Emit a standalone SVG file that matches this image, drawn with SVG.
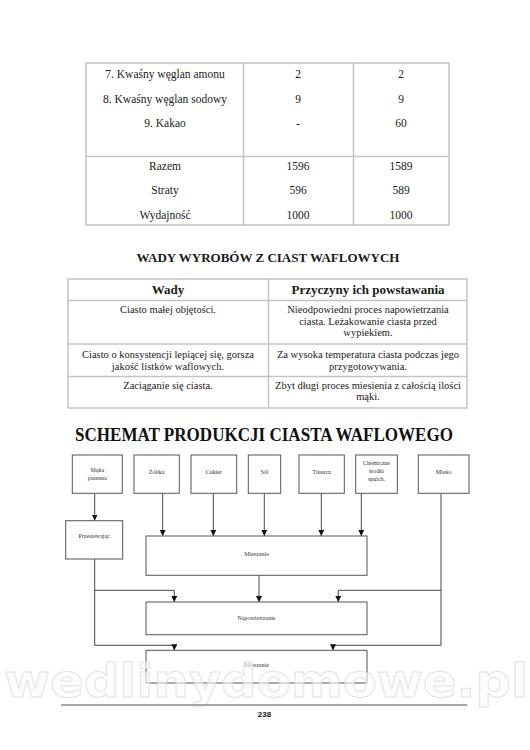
<svg xmlns="http://www.w3.org/2000/svg" width="530" height="750" viewBox="0 0 530 750">
<style>
.bg{fill:#fff}
.tb{fill:none;stroke:#c4c4c4;stroke-width:1.5}
.t{font-family:"Liberation Serif","Times New Roman",serif;fill:#1a1a1a;text-anchor:middle}
.t1{font-size:11.5px}
.t2{font-size:10.5px}
.h{font-weight:bold;font-size:13px}
.big{font-family:"Liberation Serif","Times New Roman",serif;font-weight:bold;font-size:18.5px;fill:#111;text-anchor:middle}
.box{fill:#fff;stroke:#555;stroke-width:1}
.bt{font-family:"Liberation Serif","Times New Roman",serif;font-size:6px;fill:#333;text-anchor:middle}
.ln{fill:none;stroke:#333;stroke-width:0.9}
.wm{font-family:"DejaVu Sans",Verdana,sans-serif;font-weight:bold;font-size:46px;fill:#fbfbfb;fill-opacity:0.6;stroke:#dcdcdc;stroke-opacity:0.8;stroke-width:1}
</style>
<defs>
<marker id="ar" viewBox="0 0 10 10" refX="10" refY="5" markerWidth="6" markerHeight="6" markerUnits="userSpaceOnUse" orient="auto">
<path d="M0,0 L10,5 L0,10 z" fill="#111"/>
</marker>
</defs>
<rect class="bg" x="0" y="0" width="530" height="750"/>

<g id="table1">
<rect class="tb" x="86" y="63" width="363" height="162"/>
<line class="tb" x1="243.5" y1="63" x2="243.5" y2="225"/>
<line class="tb" x1="353.5" y1="63" x2="353.5" y2="225"/>
<line class="tb" x1="86" y1="156.5" x2="449" y2="156.5"/>
<g class="t t1">
<text x="165" y="77.5">7. Kwaśny węglan amonu</text>
<text x="165" y="102.5">8. Kwaśny węglan sodowy</text>
<text x="165" y="127">9. Kakao</text>
<text x="165" y="169.5">Razem</text>
<text x="165" y="194">Straty</text>
<text x="165" y="218.5">Wydajność</text>
<text x="298" y="77.5">2</text>
<text x="298" y="102.5">9</text>
<text x="298" y="127">-</text>
<text x="298" y="169.5">1596</text>
<text x="298" y="194">596</text>
<text x="298" y="218.5">1000</text>
<text x="401" y="77.5">2</text>
<text x="401" y="102.5">9</text>
<text x="401" y="127">60</text>
<text x="401" y="169.5">1589</text>
<text x="401" y="194">589</text>
<text x="401" y="218.5">1000</text>
</g>
</g>

<text class="t h" x="268" y="262">WADY WYROBÓW Z CIAST WAFLOWYCH</text>

<g id="table2">
<rect class="tb" x="68" y="279" width="399" height="129"/>
<line class="tb" x1="268.5" y1="279" x2="268.5" y2="408"/>
<line class="tb" x1="68" y1="300.5" x2="467" y2="300.5"/>
<line class="tb" x1="68" y1="344" x2="467" y2="344"/>
<line class="tb" x1="68" y1="376.5" x2="467" y2="376.5"/>
<text class="t h" x="168" y="293.5">Wady</text>
<text class="t h" x="368" y="293.5">Przyczyny ich powstawania</text>
<g class="t t2">
<text x="168" y="313">Ciasto małej objętości.</text>
<text x="368" y="313">Nieodpowiedni proces napowietrzania</text>
<text x="368" y="324.5">ciasta. Leżakowanie ciasta przed</text>
<text x="368" y="336">wypiekiem.</text>
<text x="168" y="358">Ciasto o konsystencji lepiącej się, gorsza</text>
<text x="168" y="369.5">jakość listków waflowych.</text>
<text x="368" y="358">Za wysoka temperatura ciasta podczas jego</text>
<text x="368" y="369.5">przygotowywania.</text>
<text x="168" y="388.5">Zaciąganie się ciasta.</text>
<text x="368" y="388.5">Zbyt długi proces miesienia z całością ilości</text>
<text x="368" y="400">mąki.</text>
</g>
</g>

<text class="big" x="264" y="441" textLength="378" lengthAdjust="spacingAndGlyphs">SCHEMAT PRODUKCJI CIASTA WAFLOWEGO</text>

<g id="connectors">
<line class="ln" x1="94.7" y1="493" x2="94.7" y2="520.5" marker-end="url(#ar)"/>
<line class="ln" x1="162.7" y1="493" x2="162.7" y2="536" marker-end="url(#ar)"/>
<line class="ln" x1="213.3" y1="493" x2="213.3" y2="536" marker-end="url(#ar)"/>
<line class="ln" x1="264.3" y1="493" x2="264.3" y2="536" marker-end="url(#ar)"/>
<line class="ln" x1="321.3" y1="493" x2="321.3" y2="536" marker-end="url(#ar)"/>
<line class="ln" x1="361.3" y1="493" x2="361.3" y2="536" marker-end="url(#ar)"/>
<line class="ln" x1="259" y1="575.3" x2="259" y2="602" marker-end="url(#ar)"/>
<polyline class="ln" points="94.7,559 94.7,645.3"/>
<polyline class="ln" points="94.7,590.3 174.3,590.3 174.3,602" marker-end="url(#ar)"/>
<polyline class="ln" points="94.7,645.3 174.3,645.3 174.3,650.3" marker-end="url(#ar)"/>
<polyline class="ln" points="441,493 441,645.3"/>
<polyline class="ln" points="441,590.3 338.3,590.3 338.3,602" marker-end="url(#ar)"/>
<polyline class="ln" points="441,645.3 333,645.3 333,650.3" marker-end="url(#ar)"/>
</g>

<g id="n-maka"><rect class="box" x="72.3" y="455" width="50" height="38.3"/><text class="bt" x="97.3" y="472">Mąka</text><text class="bt" x="97.3" y="480">pszenna</text></g>
<g id="n-zoltka"><rect class="box" x="134" y="455" width="45.3" height="38.3"/><text class="bt" x="156.7" y="474">Żółtka</text></g>
<g id="n-cukier"><rect class="box" x="191" y="455" width="45.7" height="38.3"/><text class="bt" x="213.8" y="474">Cukier</text></g>
<g id="n-sol"><rect class="box" x="248.3" y="455" width="32.4" height="38.3"/><text class="bt" x="264.5" y="474">Sól</text></g>
<g id="n-tluszcz"><rect class="box" x="299" y="455" width="45.3" height="38.3"/><text class="bt" x="321.7" y="474">Tłuszcz</text></g>
<g id="n-chem"><rect class="box" x="355.7" y="455" width="41.6" height="38.3"/><text class="bt" x="376.5" y="465">Chemiczne</text><text class="bt" x="376.5" y="473">środki</text><text class="bt" x="376.5" y="481">spulch.</text></g>
<g id="n-mleko"><rect class="box" x="418.3" y="455" width="50.7" height="38.3"/><text class="bt" x="443.6" y="474">Mleko</text></g>
<g id="n-przes"><rect class="box" x="65.7" y="520.7" width="57" height="38.3"/><text class="bt" x="94.2" y="538">Przesiewając</text></g>
<g id="n-miesz1"><rect class="box" x="146" y="536" width="221" height="39.3"/><text class="bt" x="256.5" y="556">Mieszanie</text></g>
<g id="n-napow"><rect class="box" x="146" y="602" width="221" height="32.7"/><text class="bt" x="256.5" y="620">Napowietrzanie</text></g>
<g id="n-miesz2"><rect class="box" x="146" y="650.3" width="221" height="32.7"/><text class="bt" x="256.5" y="667">Mieszanie</text></g>

<text class="wm" x="4" y="697" textLength="524" lengthAdjust="spacingAndGlyphs">wedlinydomowe.pl</text>

<line x1="61" y1="705" x2="467.3" y2="705" stroke="#222" stroke-width="0.8"/>
<text x="264.5" y="716.5" font-family="Liberation Sans,Arial,sans-serif" font-weight="bold" font-size="8px" fill="#111" text-anchor="middle">238</text>
</svg>
